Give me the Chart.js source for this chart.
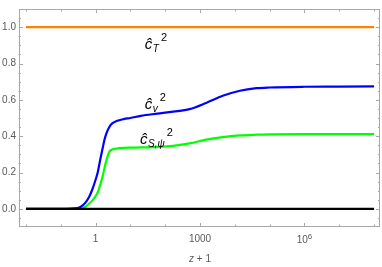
<!DOCTYPE html>
<html>
<head>
<meta charset="utf-8">
<script src="https://cdn.jsdelivr.net/npm/chart.js@4"></script>
<style>
  body { margin: 0; background: #fff; }
  canvas { display: block; }
</style>
</head>
<body>
<canvas id="grafica" width="382" height="267"></canvas>
<script>
// valores (eje x = z + 1, escala log)
const zPlusOne = [0.01, 0.1, 0.3, 0.5, 0.65, 0.8, 1.0, 1.15, 1.4, 1.6, 1.8, 2.0, 2.5, 3, 4, 6.5,
  10, 20, 60, 170, 500, 1500, 4500, 14000, 42000, 1e5, 1e6, 1e7, 1e8];
const cV2 = [0, 0, 0.004, 0.032, 0.065, 0.105, 0.16, 0.20, 0.283, 0.335, 0.38, 0.41, 0.452, 0.47, 0.483, 0.494,
  0.50, 0.512, 0.524, 0.535, 0.549, 0.583, 0.622, 0.65, 0.664, 0.668, 0.672, 0.673, 0.674];
const cS2 = [0, 0, 0.001, 0.01, 0.028, 0.045, 0.07, 0.09, 0.14, 0.18, 0.225, 0.26, 0.315, 0.326, 0.332, 0.336,
  0.337, 0.338, 0.341, 0.347, 0.360, 0.381, 0.395, 0.404, 0.408, 0.41, 0.411, 0.411, 0.411];
const xEnds = [0.01, 1e8];
const cT2 = [1, 1];
const cero = [0, 0];

const xTicks = [0.01, 0.1, 1, 10, 100, 1000, 1e4, 1e5, 1e6, 1e7, 1e8];
const xTickLabels = { 1: '1', 1000: '1000' };
const xPowLabels = [{ value: 1e6, base: '10', exp: '6' }];
const yTicks = [0, 0.2, 0.4, 0.6, 0.8, 1.0];
const yMinorTicks = [-0.05, 0.05, 0.1, 0.15, 0.25, 0.3, 0.35, 0.45, 0.5, 0.55, 0.65, 0.7, 0.75, 0.85, 0.9, 0.95, 1.05];

// etiquetas de las curvas: [x, y, subindice]
const etiquetas = [
  { x: 26, y: 0.879, sub: 'T' },
  { x: 26, y: 0.547, sub: 'v' },
  { x: 18.8, y: 0.359, sub: 'S,ψ' }
];

const GRIS = '#a8a8a8';
const TEXTO = '#5a5a5a';
const FUENTE = '"Liberation Sans", Arial, sans-serif';

function puntos(xs, ys) {
  return xs.map((x, i) => ({ x: x, y: ys[i] }));
}

// marco, marcas hacia dentro y etiquetas
const marcoPlugin = {
  id: 'marco',
  beforeDatasetsDraw(chart) {
    const { ctx, chartArea: a, scales: { x, y } } = chart;
    ctx.save();
    ctx.strokeStyle = GRIS;
    ctx.lineWidth = 1;
    ctx.strokeRect(a.left + 0.5, a.top + 0.5, a.width - 1, a.height - 1);
    ctx.beginPath();
    const marcaY = (v, len) => {
      const p = Math.round(y.getPixelForValue(v)) + 0.5;
      ctx.moveTo(a.left, p); ctx.lineTo(a.left + len, p);
      ctx.moveTo(a.right, p); ctx.lineTo(a.right - len, p);
    };
    yTicks.forEach(v => marcaY(v, 4));
    yMinorTicks.forEach(v => marcaY(v, 2));
    const grandes = [1, 1000, 1e6];
    xTicks.forEach(v => {
      const p = Math.round(x.getPixelForValue(v)) + 0.5;
      const len = grandes.includes(v) ? 4 : 2.5;
      ctx.moveTo(p, a.bottom); ctx.lineTo(p, a.bottom - len);
      ctx.moveTo(p, a.top); ctx.lineTo(p, a.top + len);
    });
    ctx.stroke();
    ctx.restore();
  },
  afterDraw(chart) {
    const { ctx, scales: { x, y } } = chart;
    ctx.save();
    ctx.fillStyle = '#000';
    ctx.textBaseline = 'alphabetic';
    etiquetas.forEach(e => {
      const px = x.getPixelForValue(e.x);
      const py = y.getPixelForValue(e.y);
      ctx.font = 'italic 15px ' + FUENTE;
      ctx.fillText('ĉ', px, py);
      const w = ctx.measureText('ĉ').width;
      ctx.font = 'italic 10px ' + FUENTE;
      ctx.fillText(e.sub, px + w + 0.5, py + 3);
      const ws = ctx.measureText(e.sub).width;
      ctx.font = '11px ' + FUENTE;
      ctx.fillText('2', px + w + ws + 2.5, py - 8);
    });

    // etiquetas con potencia en el eje x
    ctx.fillStyle = TEXTO;
    ctx.textBaseline = 'alphabetic';
    xPowLabels.forEach(l => {
      const p = x.getPixelForValue(l.value);
      ctx.font = '10px ' + FUENTE;
      const wb = ctx.measureText(l.base).width;
      ctx.font = '8px ' + FUENTE;
      const we = ctx.measureText(l.exp).width;
      const x0 = p - (wb + we) / 2;
      ctx.font = '10px ' + FUENTE;
      ctx.fillText(l.base, x0, 243);
      ctx.font = '8px ' + FUENTE;
      ctx.fillText(l.exp, x0 + wb, 239);
    });

    // titulo del eje x
    ctx.textBaseline = 'middle';
    const cx = (chart.chartArea.left + chart.chartArea.right) / 2 + 0.5;
    ctx.font = 'italic 10px ' + FUENTE;
    const wz = ctx.measureText('z').width;
    ctx.font = '10px ' + FUENTE;
    const wr = ctx.measureText(' + 1').width;
    const x0 = cx - (wz + wr) / 2;
    ctx.font = 'italic 10px ' + FUENTE;
    ctx.fillText('z', x0, 259);
    ctx.font = '10px ' + FUENTE;
    ctx.fillText(' + 1', x0 + wz, 259);
    ctx.restore();
  }
};

const ctx = document.getElementById('grafica').getContext('2d');
new Chart(ctx, {
  type: 'line',
  data: {
    datasets: [
      { label: 'cero', data: puntos(xEnds, cero), borderColor: '#000000', order: 0 },
      { label: 'cT2', data: puntos(xEnds, cT2), borderColor: '#ff8000', order: 1 },
      { label: 'cV2', data: puntos(zPlusOne, cV2), borderColor: '#0000ff', order: 2 },
      { label: 'cS2', data: puntos(zPlusOne, cS2), borderColor: '#00ff00', order: 3 }
    ]
  },
  options: {
    responsive: false,
    animation: false,
    layout: { padding: { top: 4, right: 2, left: 0, bottom: 0 } },
    elements: {
      point: { radius: 0 },
      line: { borderWidth: 2.2, cubicInterpolationMode: 'monotone', fill: false }
    },
    plugins: {
      legend: { display: false },
      tooltip: { enabled: false }
    },
    scales: {
      x: {
        type: 'logarithmic',
        min: Math.pow(10, -2.2),
        max: Math.pow(10, 8.17),
        grid: { display: false, drawTicks: false },
        border: { display: false },
        afterBuildTicks: s => { s.ticks = xTicks.map(v => ({ value: v })); },
        afterFit: s => { s.height = 40; },
        ticks: {
          autoSkip: false,
          maxRotation: 0,
          padding: 6,
          color: TEXTO,
          font: { size: 10, family: FUENTE },
          callback: v => xTickLabels[v] || ''
        }
      },
      y: {
        min: -0.1,
        max: 1.1,
        grid: { display: false, drawTicks: false },
        border: { display: false },
        afterBuildTicks: s => { s.ticks = yTicks.map(v => ({ value: v })); },
        afterFit: s => { s.width = 19; },
        ticks: {
          padding: 3,
          color: TEXTO,
          font: { size: 10, family: FUENTE },
          callback: v => v.toFixed(1)
        }
      }
    }
  },
  plugins: [marcoPlugin]
});
</script>
</body>
</html>
